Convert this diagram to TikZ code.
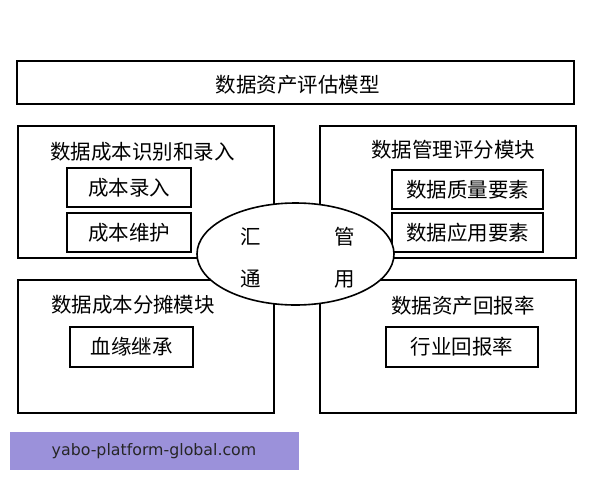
\documentclass[tikz,border=0pt]{standalone}
\usepackage{fontspec}
\setmainfont{Noto Sans CJK SC}
\newfontfamily\wmfont{DejaVu Sans}
\usetikzlibrary{shapes.geometric}
\definecolor{wmpurple}{RGB}{155,145,218}

\begin{document}
\begin{tikzpicture}[x=1pt, y=-1pt,
	box/.style={draw, line width=1.8pt, rectangle, inner sep=0pt},
	lbl/.style={inner sep=0pt, font=\fontsize{20.5}{24}\selectfont},
	hub/.style={draw, line width=1.6pt, ellipse, fill=white, inner sep=0pt, minimum width=197pt, minimum height=102pt}]
	\useasboundingbox (0,0) rectangle (600,480);
	% Title bar:
	\node[box, minimum width=557pt, minimum height=43pt] (model) at (295.5,82.5){};
	\node[lbl] (modeltxt) at (297.5,85){数据资产评估模型};
	% Four modules:
	\node[box, minimum width=256pt, minimum height=132pt] (costin) at (146,192){};
	\node[box, minimum width=256pt, minimum height=132pt] (mgmt) at (448,192){};
	\node[box, minimum width=256pt, minimum height=133pt] (alloc) at (146,346.5){};
	\node[box, minimum width=256pt, minimum height=133pt] (roa) at (448,346.5){};
	\node[lbl] (costintxt) at (142.5,152){数据成本识别和录入};
	\node[lbl] (mgmttxt) at (453,150){数据管理评分模块};
	\node[lbl] (alloctxt) at (133,305){数据成本分摊模块};
	\node[lbl] (roatxt) at (463,306){数据资产回报率};
	% Sub-items:
	\node[box, minimum width=124pt, minimum height=39pt, lbl] (entry) at (129,187.5){成本录入};
	\node[box, minimum width=124pt, minimum height=39pt, lbl] (maint) at (129,232.5){成本维护};
	\node[box, minimum width=151pt, minimum height=39pt, lbl] (quality) at (467.5,189.5){数据质量要素};
	\node[box, minimum width=151pt, minimum height=39pt, lbl] (usage) at (467.5,232.5){数据应用要素};
	\node[box, minimum width=123pt, minimum height=40pt, lbl] (lineage) at (131.5,347){血缘继承};
	\node[box, minimum width=152pt, minimum height=40pt, lbl] (industry) at (462,347){行业回报率};
	% Centre hub:
	\node[hub] (hub) at (295.5,254){};
	\node[lbl] (hui) at (251,237){汇};
	\node[lbl] (guan) at (345,237){管};
	\node[lbl] (tong) at (251,279){通};
	\node[lbl] (yong) at (345,279){用};
	% Watermark:
	\node[fill=wmpurple, minimum width=289pt, minimum height=38pt, inner sep=0pt] (mark) at (154.5,451){};
	\node[inner sep=0pt, font=\wmfont\fontsize{15.8}{18}\selectfont, text=black!85] (marktxt) at (154,451){yabo-platform-global.com};
\end{tikzpicture}
\end{document}
